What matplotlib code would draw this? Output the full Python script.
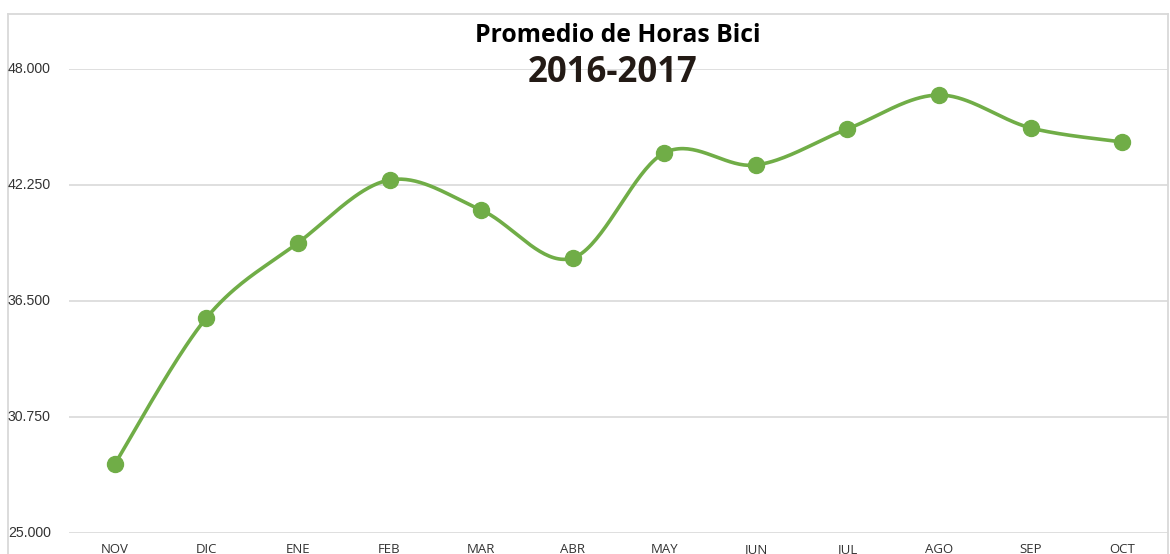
import numpy as np
import matplotlib
matplotlib.use("Agg")
import matplotlib.pyplot as plt
from matplotlib.lines import Line2D

months = ["NOV", "DIC", "ENE", "FEB", "MAR", "ABR", "MAY", "JUN", "JUL", "AGO", "SEP", "OCT"]
horas = [28.42, 35.66, 39.38, 42.50, 41.01, 38.63, 43.84, 43.24, 45.03, 46.71, 45.08, 44.38]
yticks = [25.0, 30.75, 36.5, 42.25, 48.0]
ytick_labels = ["25.000", "30.750", "36.500", "42.250", "48.000"]
title1 = "Promedio de Horas Bici"
title2 = "2016-2017"

W, H = 1170, 554
fig = plt.figure(figsize=(W / 100, H / 100), dpi=100)
fig.patch.set_facecolor("white")

def fx(px):
    return px / W

def fy(py):
    return 1 - py / H

ax = fig.add_axes([fx(69), fy(533), fx(1168) - fx(69), fy(69) - fy(533)])
ax.set_xlim(-0.5, len(months) - 0.5)
ax.set_ylim(25, 48)

# Smooth curve (Catmull-Rom style bezier like Excel)
x = np.arange(len(months), dtype=float)
y = np.array(horas, dtype=float)
xs, ys = [], []
n = len(x)
for i in range(n - 1):
    p0 = np.array([x[max(i - 1, 0)], y[max(i - 1, 0)]])
    p1 = np.array([x[i], y[i]])
    p2 = np.array([x[i + 1], y[i + 1]])
    p3 = np.array([x[min(i + 2, n - 1)], y[min(i + 2, n - 1)]])
    c1 = p1 + (p2 - p0) / 6.0
    c2 = p2 - (p3 - p1) / 6.0
    t = np.linspace(0, 1, 40)[:, None]
    pts = ((1 - t) ** 3) * p1 + 3 * ((1 - t) ** 2) * t * c1 + 3 * (1 - t) * t ** 2 * c2 + t ** 3 * p2
    xs.extend(pts[:, 0]); ys.extend(pts[:, 1])

green = "#70AD47"
ax.plot(xs, ys, color=green, lw=2.6, solid_capstyle="round", zorder=3)
ax.plot(x, y, "o", color=green, ms=11.5, zorder=4)

for yt in yticks:
    ax.axhline(yt, color="#d9d9d9", lw=1.2, zorder=1)

ax.set_yticks([])
ax.set_xticks(x)
ax.set_xticklabels(months, fontsize=9.5, color="#333333", family="Open Sans")
ax.tick_params(axis="x", length=0, pad=7)
for s in ax.spines.values():
    s.set_visible(False)

# y labels in figure coords
for yt, lab in zip(yticks, ytick_labels):
    py = 533 - (yt - 25) / 23 * (533 - 69)
    fig.text(fx(8), fy(py), lab, ha="left", va="center", fontsize=10.2,
             color="#333333", family="Liberation Sans")

fig.text(fx(618), fy(35), title1, ha="center", va="center", fontsize=17.8,
         fontweight="bold", family="Open Sans", color="black")
fig.text(fx(613), fy(73), title2, ha="center", va="center", fontsize=25,
         fontweight="bold", family="Open Sans", color="#231a15")

# chart frame
fc = "#d9d9d9"
fig.add_artist(Line2D([fx(8), fx(1168)], [fy(14), fy(14)], color=fc, lw=1.3))
fig.add_artist(Line2D([fx(8), fx(8)], [fy(14), 0], color=fc, lw=1.3))
fig.add_artist(Line2D([fx(1168), fx(1168)], [fy(14), 0], color=fc, lw=1.3))

fig.savefig("out.png", dpi=100, facecolor="white")
